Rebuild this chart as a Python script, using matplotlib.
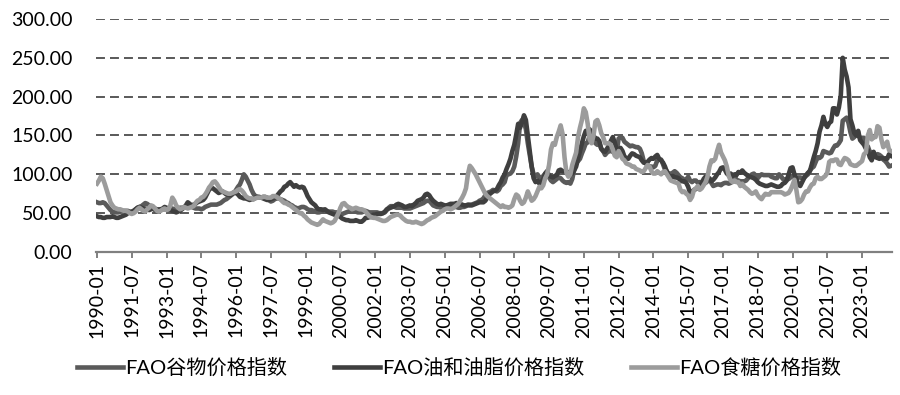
import matplotlib

matplotlib.use("Agg")

import matplotlib.pyplot as plt
import numpy as np
import pandas as pd

# monthly categories, 1990-01 .. 2024-04
months = pd.period_range("1990-01", "2024-04", freq="M").strftime("%Y-%m").tolist()

series_names = ["FAO谷物价格指数", "FAO油和油脂价格指数", "FAO食糖价格指数"]

cereals = [
    64, 63, 63, 64, 63, 60, 57, 54, 52, 51, 51, 51,  # 1990
    52, 52, 53, 53, 53, 52, 51, 53, 55, 57, 58, 59,  # 1991
    61, 63, 62, 60, 59, 58, 56, 55, 55, 55, 55, 55,  # 1992
    55, 55, 56, 56, 55, 54, 55, 57, 57, 57, 58, 60,  # 1993
    59, 58, 57, 56, 56, 56, 55, 56, 58, 59, 60, 61,  # 1994
    61, 61, 61, 62, 63, 65, 67, 68, 70, 72, 74, 76,  # 1995
    80, 84, 87, 93, 100, 97, 92, 87, 80, 75, 72, 71,  # 1996
    70, 70, 71, 71, 70, 67, 65, 66, 68, 69, 69, 68,  # 1997
    67, 66, 64, 63, 61, 60, 58, 57, 56, 57, 58, 58,  # 1998
    57, 55, 54, 54, 53, 52, 51, 51, 52, 52, 52, 52,  # 1999
    52, 52, 52, 51, 51, 50, 49, 49, 50, 51, 52, 53,  # 2000
    54, 53, 52, 51, 51, 51, 52, 53, 52, 51, 51, 51,  # 2001
    51, 51, 50, 50, 50, 51, 54, 57, 59, 59, 58, 57,  # 2002
    57, 57, 57, 56, 56, 56, 56, 57, 58, 59, 60, 61,  # 2003
    62, 63, 65, 66, 66, 63, 60, 59, 58, 58, 57, 57,  # 2004
    57, 57, 58, 58, 58, 58, 58, 57, 57, 58, 58, 59,  # 2005
    60, 61, 61, 62, 63, 64, 66, 67, 69, 73, 76, 77,  # 2006
    78, 80, 79, 78, 80, 85, 87, 90, 99, 100, 101, 104,  # 2007
    110, 123, 140, 166, 170, 168, 158, 140, 125, 110, 100, 98,  # 2008
    100, 96, 94, 98, 101, 104, 96, 92, 90, 92, 94, 96,  # 2009
    95, 92, 90, 89, 90, 88, 94, 106, 115, 117, 120, 127,  # 2010
    133, 140, 141, 150, 148, 145, 140, 138, 140, 133, 130, 125,  # 2011
    128, 130, 130, 129, 127, 129, 146, 148, 147, 142, 140, 138,  # 2012
    136, 137, 136, 135, 135, 133, 127, 117, 114, 112, 110, 110,  # 2013
    109, 111, 118, 119, 119, 113, 106, 104, 99, 101, 102, 104,  # 2014
    102, 99, 96, 95, 92, 93, 97, 92, 90, 92, 92, 89,  # 2015
    90, 90, 89, 89, 91, 94, 89, 85, 86, 87, 87, 86,  # 2016
    88, 89, 89, 88, 89, 91, 98, 93, 92, 91, 91, 91,  # 2017
    92, 95, 98, 100, 101, 98, 95, 98, 100, 99, 99, 99,  # 2018
    99, 97, 96, 95, 95, 100, 98, 94, 93, 94, 94, 96,  # 2019
    98, 97, 95, 96, 96, 95, 96, 98, 100, 105, 108, 110,  # 2020
    116, 122, 121, 123, 130, 129, 128, 127, 128, 133, 137, 137,  # 2021
    140, 144, 169, 171, 173, 166, 154, 146, 148, 152, 150, 147,  # 2022
    147, 147, 138, 136, 129, 128, 126, 124, 126, 125, 123, 119,  # 2023
    117, 114, 110, 111,  # 2024
]

oils = [
    46, 45, 45, 44, 44, 45, 45, 45, 46, 45, 44, 44,  # 1990
    45, 46, 47, 48, 50, 51, 52, 53, 55, 57, 58, 57,  # 1991
    56, 56, 55, 54, 55, 56, 54, 53, 54, 55, 56, 58,  # 1992
    57, 55, 54, 53, 52, 51, 52, 53, 55, 57, 60, 64,  # 1993
    62, 60, 61, 62, 64, 65, 66, 67, 70, 75, 80, 83,  # 1994
    82, 80, 78, 76, 77, 78, 76, 74, 74, 73, 75, 77,  # 1995
    76, 74, 71, 70, 69, 69, 68, 67, 68, 68, 70, 71,  # 1996
    71, 70, 69, 68, 67, 67, 68, 69, 70, 72, 75, 78,  # 1997
    80, 84, 85, 88, 90, 87, 84, 86, 84, 83, 84, 83,  # 1998
    78, 72, 68, 64, 62, 60, 56, 55, 55, 54, 55, 53,  # 1999
    51, 50, 49, 48, 48, 47, 45, 43, 42, 41, 41, 40,  # 2000
    40, 40, 41, 40, 39, 39, 41, 44, 44, 45, 45, 48,  # 2001
    48, 49, 49, 49, 50, 52, 55, 56, 57, 58, 59, 61,  # 2002
    62, 61, 60, 58, 58, 59, 60, 59, 61, 63, 66, 67,  # 2003
    68, 70, 74, 75, 73, 69, 66, 64, 62, 61, 62, 61,  # 2004
    60, 60, 61, 62, 62, 62, 63, 62, 62, 61, 60, 60,  # 2005
    61, 60, 60, 61, 62, 63, 64, 64, 64, 66, 70, 74,  # 2006
    76, 78, 79, 81, 86, 90, 96, 100, 107, 113, 120, 130,  # 2007
    138, 151, 165, 160, 167, 176, 170, 150, 130, 110, 95, 90,  # 2008
    92, 88, 90, 94, 101, 104, 98, 97, 96, 98, 99, 105,  # 2009
    106, 104, 104, 104, 102, 101, 101, 105, 110, 120, 130, 140,  # 2010
    149, 156, 152, 158, 154, 150, 146, 146, 143, 133, 130, 129,  # 2011
    133, 137, 143, 148, 141, 131, 132, 134, 130, 123, 121, 120,  # 2012
    124, 127, 126, 124, 123, 122, 118, 115, 115, 116, 119, 121,  # 2013
    120, 123, 125, 120, 118, 115, 110, 103, 98, 97, 98, 96,  # 2014
    96, 95, 92, 91, 91, 89, 84, 76, 77, 80, 81, 83,  # 2015
    84, 88, 94, 97, 96, 95, 91, 93, 96, 100, 103, 108,  # 2016
    109, 106, 101, 99, 101, 98, 100, 99, 103, 102, 105, 102,  # 2017
    100, 98, 97, 96, 95, 93, 90, 88, 87, 86, 85, 85,  # 2018
    86, 87, 86, 85, 84, 84, 85, 88, 89, 92, 100, 108,  # 2019
    109, 100, 94, 87, 85, 90, 95, 99, 102, 104, 113, 122,  # 2020
    130, 140, 155, 163, 174, 165, 161, 166, 168, 185, 185, 177,  # 2021
    186, 202, 250, 235, 226, 212, 171, 163, 153, 150, 156, 144,  # 2022
    141, 138, 133, 131, 122, 118, 129, 122, 121, 120, 121, 121,  # 2023
    120, 120, 126, 124,  # 2024
]

sugar = [
    88, 92, 97, 95, 88, 80, 72, 64, 60, 57, 56, 55,  # 1990
    55, 54, 53, 53, 52, 50, 49, 50, 52, 55, 57, 55,  # 1991
    53, 52, 55, 57, 60, 59, 56, 53, 52, 53, 55, 56,  # 1992
    54, 55, 60, 70, 66, 60, 57, 55, 56, 58, 57, 56,  # 1993
    57, 58, 59, 63, 66, 67, 70, 71, 74, 78, 83, 86,  # 1994
    90, 91, 88, 84, 80, 78, 77, 76, 75, 75, 76, 77,  # 1995
    78, 80, 81, 79, 76, 72, 70, 69, 69, 68, 69, 70,  # 1996
    70, 70, 71, 71, 70, 70, 70, 72, 72, 71, 69, 68,  # 1997
    65, 63, 63, 61, 60, 58, 56, 54, 52, 50, 50, 47,  # 1998
    45, 42, 40, 38, 37, 36, 35, 36, 39, 42, 40, 39,  # 1999
    38, 37, 38, 40, 45, 50, 57, 62, 63, 60, 58, 57,  # 2000
    55, 56, 57, 56, 55, 55, 54, 52, 49, 46, 45, 44,  # 2001
    44, 43, 42, 41, 40, 40, 41, 43, 45, 46, 47, 48,  # 2002
    48, 47, 44, 42, 40, 39, 39, 38, 38, 39, 38, 37,  # 2003
    36, 37, 39, 41, 42, 44, 45, 46, 48, 50, 52, 53,  # 2004
    55, 56, 56, 55, 56, 58, 60, 62, 66, 70, 75, 82,  # 2005
    100, 111, 108, 104, 100, 95, 90, 85, 80, 75, 72, 70,  # 2006
    68, 66, 64, 62, 60, 58, 60, 58, 58, 57, 58, 60,  # 2007
    68, 74, 72, 66, 62, 64, 70, 78, 72, 66, 68, 72,  # 2008
    78, 84, 82, 86, 95, 100, 112, 132, 140, 138, 148, 155,  # 2009
    163, 152, 122, 102, 97, 100, 112, 120, 128, 148, 160, 170,  # 2010
    185, 180, 165, 145, 140, 150, 168, 170, 163, 153, 148, 140,  # 2011
    140, 140, 138, 132, 124, 122, 130, 125, 120, 118, 114, 113,  # 2012
    112, 110, 110, 107, 106, 105, 103, 104, 108, 112, 110, 104,  # 2013
    101, 101, 104, 102, 100, 103, 104, 100, 96, 92, 91, 90,  # 2014
    89, 88, 80, 77, 78, 75, 73, 67, 71, 80, 82, 85,  # 2015
    80, 82, 86, 90, 97, 110, 118, 117, 120, 130, 138, 128,  # 2016
    123, 118, 110, 98, 92, 90, 92, 90, 90, 85, 88, 84,  # 2017
    82, 80, 77, 75, 76, 78, 73, 70, 68, 72, 75, 74,  # 2018
    74, 77, 77, 77, 77, 77, 77, 76, 74, 75, 76, 80,  # 2019
    86, 93, 80, 64, 65, 68, 74, 78, 78, 83, 87, 88,  # 2020
    95, 97, 94, 94, 96, 98, 102, 116, 118, 117, 119, 119,  # 2021
    113, 112, 117, 121, 120, 118, 113, 112, 111, 111, 113, 115,  # 2022
    117, 126, 128, 150, 157, 145, 148, 148, 162, 160, 145, 135,  # 2023
    138, 142, 131, 130,  # 2024
]

y_ticks = [0, 50, 100, 150, 200, 250, 300]
label_step = 18

colors = ["#5a5a5a", "#3f3f3f", "#9c9c9c"]

plt.rcParams["font.family"] = ["Lato", "Noto Sans CJK SC", "DejaVu Sans"]

fig = plt.figure(figsize=(9, 3.95), dpi=100)
ax = fig.add_axes([96 / 900, 1 - 252 / 395, (892 - 96) / 900, (252 - 19) / 395])

x = np.arange(len(months))
for values, name, color in zip([cereals, oils, sugar], series_names, colors):
    ax.plot(x, values, color=color, linewidth=3.3, label=name,
            solid_joinstyle="round", zorder=3)

ax.set_xlim(-0.5, len(months) - 0.5)
ax.set_ylim(0, 300)
ax.set_yticks(y_ticks)
ax.set_yticklabels([f"{v:.2f}" for v in y_ticks], fontsize=14)
for v in y_ticks[1:]:
    ax.axhline(v, color="#595959", linewidth=1.4, linestyle=(0, (4.6, 2.6)), zorder=1)

tick_pos = x[::label_step]
ax.set_xticks(tick_pos)
ax.set_xticklabels([months[i] for i in tick_pos], rotation=90, fontsize=14)

for side in ["left", "top", "right"]:
    ax.spines[side].set_visible(False)
ax.spines["bottom"].set_color("#808080")
ax.spines["bottom"].set_linewidth(1.6)
ax.tick_params(axis="y", length=0, pad=17)
ax.tick_params(axis="x", length=4.5, width=1.4, color="#808080", pad=3)

fig.legend(loc="lower center", bbox_to_anchor=(0.51, 0.0), ncol=3, frameon=False,
           fontsize=14.5, handlelength=2.3, handletextpad=0.1, columnspacing=2.3)

fig.savefig("out.png", dpi=100)
